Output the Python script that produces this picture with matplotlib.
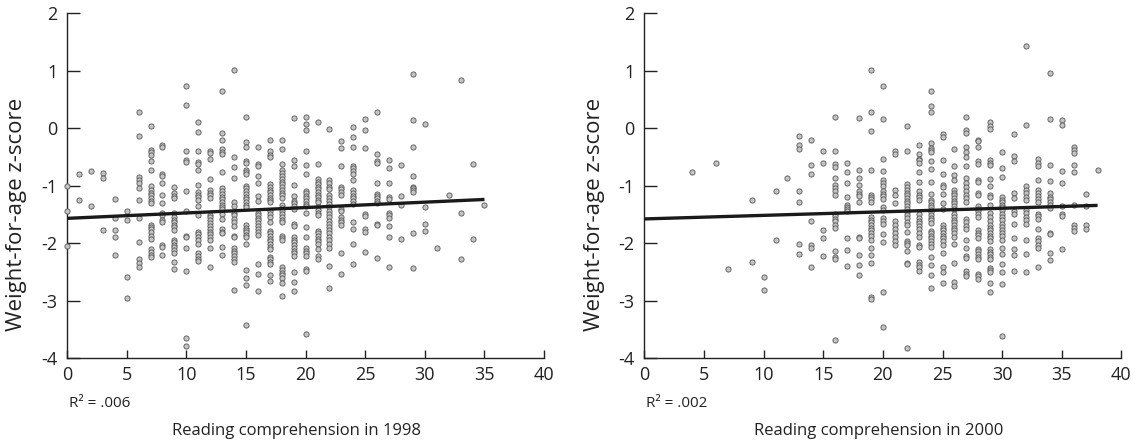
import numpy as np
import matplotlib
matplotlib.use('Agg')
import matplotlib.pyplot as plt

plt.rcParams['font.family'] = ['Open Sans', 'DejaVu Sans']
plt.rcParams['axes.unicode_minus'] = False

# Reading scores (x) and weight-for-age z-scores (y), one list per score
scores_1998 = list(range(0, 36))
waz_1998 = [
    [-1.0, -1.45, -2.05],
    [-0.8, -1.25],
    [-0.75, -1.36],
    [-0.78, -0.87, -1.77],
    [-1.24, -1.56, -1.77, -1.9, -2.21],
    [-1.44, -1.6, -2.59, -2.95],
    [0.28, -0.13, -0.85, -0.9, -0.95, -1.05, -1.25, -1.56, -1.99, -2.27, -2.34, -2.41],
    [0.03, -0.38, -0.42, -0.46, -0.58, -0.73, -1.0, -1.08, -1.12, -1.17, -1.21, -1.26,
     -1.3, -1.68, -1.72, -1.76, -1.8, -1.87, -1.93, -2.11, -2.15, -2.2, -2.25],
    [-0.29, -0.33, -0.79, -0.83, -0.96, -1.17, -1.3, -1.48, -1.52, -1.59, -1.64, -2.03,
     -2.07, -2.21],
    [-1.02, -1.13, -1.18, -1.22, -1.47, -1.54, -1.59, -1.63, -1.68, -1.72, -1.77, -1.94,
     -1.98, -2.03, -2.07, -2.12, -2.17, -2.33, -2.45],
    [0.73, 0.4, -0.4, -0.55, -0.59, -1.1, -1.44, -1.87, -1.9, -2.09, -2.48, -3.66, -3.8],
    [0.1, -0.06, -0.4, -0.59, -0.62, -0.73, -0.99, -1.11, -1.16, -1.2, -1.25, -1.35,
     -1.51, -1.81, -1.85, -1.89, -1.94, -2.02, -2.18, -2.22, -2.27, -2.32],
    [-0.4, -0.43, -0.53, -0.88, -1.07, -1.12, -1.16, -1.21, -1.51, -1.55, -1.6, -1.65,
     -1.7, -1.75, -1.8, -1.84, -1.89, -1.94, -2.09, -2.41],
    [0.65, -0.09, -0.21, -0.37, -0.41, -0.45, -0.77, -1.05, -1.1, -1.14, -1.19, -1.24,
     -1.28, -1.33, -1.37, -1.41, -1.49, -1.58, -1.75, -1.8, -1.83, -2.06, -2.2],
    [1.01, -0.51, -0.68, -0.87, -1.28, -1.35, -1.47, -1.52, -1.58, -1.64, -1.7, -1.87,
     -1.9, -2.09, -2.13, -2.18, -2.22, -2.27, -2.33, -2.81],
    [0.2, -0.24, -0.32, -0.57, -0.6, -0.72, -0.76, -0.8, -1.0, -1.05, -1.1, -1.14, -1.19,
     -1.24, -1.28, -1.33, -1.37, -1.69, -1.73, -1.77, -1.81, -1.86, -1.9, -2.01, -2.47,
     -2.61, -2.73, -3.43],
    [-0.33, -0.63, -0.66, -0.83, -0.95, -1.18, -1.26, -1.47, -1.51, -1.56, -1.6, -1.65,
     -1.7, -1.75, -1.8, -1.86, -2.36, -2.54, -2.84],
    [-0.2, -0.4, -0.46, -0.51, -0.98, -1.02, -1.07, -1.11, -1.16, -1.21, -1.25, -1.29,
     -1.44, -1.5, -1.55, -1.64, -1.79, -1.83, -1.88, -1.93, -1.97, -2.02, -2.06, -2.11,
     -2.24, -2.28, -2.33, -2.37, -2.56, -2.66],
    [-0.2, -0.36, -0.62, -0.73, -0.78, -0.84, -0.89, -0.94, -0.98, -1.03, -1.07, -1.12,
     -1.17, -1.21, -1.34, -1.39, -1.44, -1.49, -1.55, -1.59, -1.64, -1.88, -1.91, -1.94,
     -2.41, -2.47, -2.52, -2.56, -2.61, -2.69, -2.93],
    [0.17, -0.56, -0.65, -0.99, -1.18, -1.26, -1.3, -1.35, -1.4, -1.66, -1.71, -1.9,
     -1.94, -1.99, -2.04, -2.09, -2.13, -2.18, -2.22, -2.51, -2.67, -2.84],
    [0.2, 0.07, -0.03, -0.4, -0.64, -0.79, -1.09, -1.13, -1.18, -1.22, -1.27, -1.32,
     -1.36, -1.47, -1.72, -1.9, -2.09, -2.13, -2.18, -2.22, -2.45, -2.49, -3.59],
    [0.1, -0.63, -0.88, -0.93, -0.97, -1.02, -1.06, -1.11, -1.16, -1.2, -1.25, -1.29,
     -1.37, -1.42, -1.47, -1.51, -1.79, -1.83, -1.88, -1.93, -1.97, -2.02, -2.1, -2.22,
     -2.27],
    [-0.01, -0.9, -0.95, -1.02, -1.06, -1.17, -1.21, -1.26, -1.32, -1.38, -1.44, -1.49,
     -1.55, -1.61, -1.67, -1.72, -1.78, -1.83, -1.9, -1.95, -2.01, -2.09, -2.4, -2.78],
    [-0.23, -0.34, -0.66, -1.02, -1.06, -1.11, -1.17, -1.41, -1.45, -1.54, -1.59, -1.64,
     -1.68, -2.18, -2.53],
    [0.02, -0.16, -0.33, -0.65, -0.7, -0.74, -0.79, -0.91, -1.08, -1.13, -1.18, -1.22,
     -1.27, -1.32, -1.63, -1.75, -2.01, -2.37],
    [0.16, -0.03, -0.34, -1.49, -1.53, -1.76, -1.81, -2.16],
    [0.29, -0.45, -0.57, -0.6, -0.95, -1.14, -1.18, -1.22, -1.26, -1.3, -1.66, -1.68,
     -2.26],
    [-0.55, -0.7, -0.95, -1.2, -1.24, -1.47, -1.51, -1.56, -1.7, -1.9, -2.41],
    [-0.64, -1.18, -1.34, -1.93],
    [0.95, 0.14, -0.32, -0.83, -1.02, -1.05, -1.07, -1.11, -1.82, -2.43],
    [0.07, -1.37, -1.66, -1.79],
    [-2.08],
    [-1.16],
    [0.84, -1.48, -2.28],
    [-0.63, -1.93],
    [-1.34],
]

scores_2000 = [4, 6, 7, 9, 10, 11, 12] + list(range(13, 39))
waz_2000 = [
    [-0.77],
    [-0.6],
    [-2.45],
    [-1.25, -2.33],
    [-2.59, -2.82],
    [-1.09, -1.95],
    [-0.87],
    [-0.13, -0.29, -0.36, -1.09, -1.29, -2.01, -2.19],
    [-0.2, -0.64, -0.79, -1.61, -2.04, -2.08, -2.42],
    [-0.39, -0.6, -1.78, -1.92, -2.23],
    [0.2, -0.4, -0.62, -0.68, -0.86, -0.99, -1.05, -1.1, -1.16, -1.49, -1.53, -1.58,
     -1.62, -1.68, -1.74, -2.13, -2.24, -2.28, -3.68],
    [-0.6, -0.76, -0.95, -1.19, -1.33, -1.37, -1.4, -1.45, -1.91, -2.12, -2.4],
    [0.17, -0.73, -0.86, -0.99, -1.1, -1.14, -1.18, -1.28, -1.89, -1.92, -2.2, -2.38,
     -2.55],
    [1.01, 0.28, -0.05, -0.72, -1.16, -1.2, -1.24, -1.29, -1.54, -1.59, -1.64, -1.68,
     -1.73, -1.78, -1.82, -1.87, -1.95, -2.09, -2.21, -2.35, -2.94, -2.98],
    [0.73, 0.16, -0.54, -0.74, -0.9, -0.95, -1.01, -1.1, -1.15, -1.18, -1.23, -1.37,
     -1.42, -1.57, -1.61, -1.66, -1.85, -1.98, -2.86, -3.46],
    [-0.4, -0.45, -1.08, -1.16, -1.3, -1.62, -1.69, -1.76, -1.83, -1.9, -1.97, -2.03],
    [0.04, -0.4, -0.98, -1.03, -1.08, -1.12, -1.17, -1.22, -1.26, -1.31, -1.36, -1.4,
     -1.46, -1.52, -1.57, -1.63, -1.69, -1.8, -1.97, -2.0, -2.03, -2.14, -2.34, -2.36,
     -3.82],
    [-0.29, -0.45, -0.53, -0.56, -0.61, -0.77, -0.94, -1.09, -1.16, -1.2, -1.25, -1.5,
     -1.56, -1.61, -1.65, -1.7, -1.76, -1.83, -1.9, -2.03, -2.07, -2.33, -2.38, -2.42,
     -2.48],
    [0.65, 0.39, 0.29, -0.25, -0.34, -0.38, -0.41, -0.58, -0.71, -0.93, -1.14, -1.25,
     -1.29, -1.33, -1.37, -1.42, -1.46, -1.51, -1.56, -1.6, -1.65, -1.79, -1.83, -1.88,
     -1.92, -1.97, -2.02, -2.06, -2.24, -2.39, -2.56, -2.79],
    [-0.1, -0.16, -0.55, -0.8, -0.99, -1.03, -1.14, -1.31, -1.4, -1.69, -1.74, -1.78,
     -1.83, -1.88, -1.92, -1.97, -2.03, -2.18, -2.42, -2.5, -2.69],
    [-0.36, -0.65, -0.82, -0.9, -1.08, -1.12, -1.17, -1.22, -1.26, -1.31, -1.36, -1.4,
     -1.5, -1.54, -1.59, -1.64, -1.68, -1.73, -1.78, -1.82, -1.89, -2.02, -2.34, -2.68,
     -2.75],
    [0.2, -0.03, -0.09, -0.33, -0.41, -0.51, -0.66, -0.87, -0.95, -1.02, -1.1, -1.16,
     -1.22, -1.29, -1.58, -1.64, -1.7, -1.76, -1.95, -2.09, -2.23, -2.26, -2.48, -2.53,
     -2.57],
    [-0.2, -0.23, -0.32, -0.58, -0.62, -0.9, -0.94, -1.12, -1.16, -1.35, -1.4, -1.44,
     -1.5, -1.54, -1.77, -1.82, -1.86, -1.91, -2.1, -2.14, -2.19, -2.24, -2.28, -2.54,
     -2.58, -2.63],
    [0.1, 0.03, -0.02, -0.56, -0.6, -0.64, -0.88, -1.01, -1.16, -1.2, -1.33, -1.47,
     -1.54, -1.61, -1.68, -1.74, -1.78, -1.83, -1.88, -1.92, -1.97, -2.1, -2.15, -2.19,
     -2.24, -2.28, -2.43, -2.47, -2.5, -2.69, -2.86],
    [-0.42, -0.7, -0.85, -1.2, -1.25, -1.29, -1.34, -1.38, -1.43, -1.49, -1.54, -1.6,
     -1.66, -1.72, -1.77, -1.83, -1.88, -1.94, -2.09, -2.19, -2.36, -2.5, -2.71, -3.62],
    [-0.11, -0.49, -0.58, -1.12, -1.21, -1.44, -1.49, -1.67, -1.91, -2.1, -2.21, -2.48],
    [1.43, 0.06, -1.01, -1.07, -1.13, -1.2, -1.25, -1.42, -1.47, -1.54, -1.6, -1.67,
     -1.94, -2.19, -2.51],
    [-0.54, -0.6, -0.65, -0.91, -1.07, -1.13, -1.18, -1.24, -1.29, -1.49, -1.53, -1.58,
     -1.76, -1.92, -1.97, -2.03, -2.09, -2.42],
    [0.96, 0.16, -0.64, -0.92, -1.13, -1.19, -1.24, -1.29, -1.34, -1.39, -1.82, -1.84,
     -2.17, -2.29],
    [0.14, 0.06, -0.75, -0.96, -1.35, -1.49, -1.53, -2.11],
    [-0.32, -0.38, -0.43, -0.64, -0.76, -1.33, -1.69, -1.74, -1.79],
    [-1.15, -1.35, -1.69, -1.76],
    [-0.73],
]

# Fitted lines as printed (intercept, slope), drawn from 0 to the top score
fit_1998 = (-1.57, 0.0094)
fit_2000 = (-1.58, 0.0062)
r2_1998 = 'R² = .006'
r2_2000 = 'R² = .002'
xlabel_1998 = 'Reading comprehension in 1998'
xlabel_2000 = 'Reading comprehension in 2000'


def flatten(scores, values):
    xs, ys = [], []
    for s, col in zip(scores, values):
        xs.extend([s] * len(col))
        ys.extend(col)
    return np.array(xs), np.array(ys)


fig = plt.figure(figsize=(11.4, 4.43), dpi=100)
ax1 = fig.add_axes([0.0588, 0.192, 0.4185, 0.778])
ax2 = fig.add_axes([0.5652, 0.192, 0.4185, 0.778])

panels = [
    (ax1, scores_1998, waz_1998, fit_1998, r2_1998, xlabel_1998, 0.481),
    (ax2, scores_2000, waz_2000, fit_2000, r2_2000, xlabel_2000, 0.492),
]

for ax, scores, values, fit, r2, xlabel, label_x in panels:
    xs, ys = flatten(scores, values)
    ax.scatter(xs, ys, s=14, facecolor='#c4c4c4', edgecolor='#555555',
               linewidth=0.6, zorder=3, clip_on=False)

    # regression line
    line_x = np.array([0, max(scores)])
    ax.plot(line_x, fit[0] + fit[1] * line_x, color='#1a1a1a',
            linewidth=2.4, zorder=4, solid_capstyle='butt')

    ax.set_xlim(0, 40)
    ax.set_ylim(-4, 2)
    ax.set_xticks(range(0, 41, 5))
    ax.set_yticks(range(-4, 3))

    for side in ['top', 'right']:
        ax.spines[side].set_visible(False)
    for side in ['left', 'bottom']:
        ax.spines[side].set_linewidth(1.0)
        ax.spines[side].set_color('#222222')

    ax.tick_params(axis='y', direction='in', length=9, width=1.0,
                   labelsize=13, pad=7, colors='#222222')
    ax.tick_params(axis='x', direction='in', length=6, width=1.0,
                   labelsize=13, pad=6, colors='#222222')

    ax.set_ylabel('Weight-for-age z-score', fontsize=16, color='#222222',
                  va='center')
    ax.yaxis.set_label_coords(-0.105, 0.417)
    ax.set_xlabel(xlabel, fontsize=12, color='#222222')
    ax.xaxis.set_label_coords(label_x, -0.19)

    ax.text(0.004, -0.133, r2, transform=ax.transAxes, fontsize=11,
            ha='left', va='center', color='#222222')

plt.savefig('out.png', dpi=100)
